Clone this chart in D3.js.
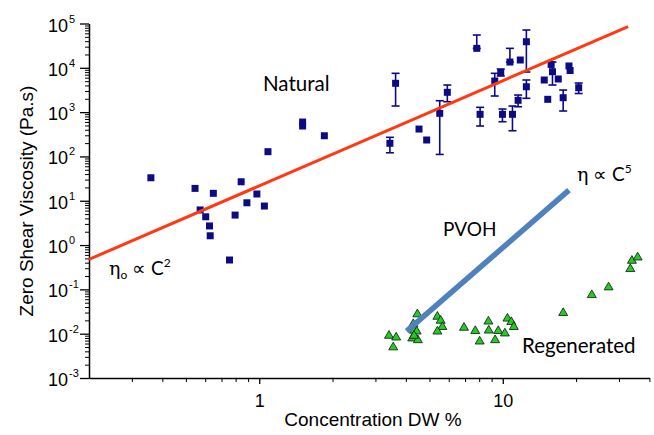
<!DOCTYPE html>
<html>
<head>
<meta charset="utf-8">
<script src="https://cdn.jsdelivr.net/npm/d3@7"></script>
<style>
  body { margin: 0; background: #fff; }
  text { font-family: "Liberation Sans", Arial, sans-serif; fill: #000; }
  .note { font-family: Lato, "Liberation Sans", sans-serif; }
</style>
</head>
<body>
<div id="chart"></div>
<script>
// Data
// ================================
// natural samples (concentration %, viscosity Pa.s, error low / high)
const naturalC = [0.359, 0.545, 0.572, 0.603, 0.625, 0.629, 0.648, 0.755, 0.796, 0.843,
  0.890, 0.978, 1.05, 1.086, 1.507, 1.507, 1.851, 3.44, 3.63, 4.53,
  4.87, 5.51, 5.92, 7.82, 8.07, 9.27, 9.81, 9.97, 10.7, 10.96,
  11.56, 11.8, 12.5, 12.5, 14.8, 15.3, 15.8, 16.0, 16.9, 17.7,
  18.7, 18.9, 20.5];
const naturalV = [33, 19, 6.2, 4.35, 2.7, 1.62, 14.7, 0.46, 4.75, 26.8,
  9.0, 14.2, 7.6, 128, 598, 486, 293, 198, 4470, 415,
  235, 940, 2800, 27500, 892, 5040, 7830, 892, 13500, 892,
  1847, 15000, 38800, 3740, 5310, 1945, 11900, 8170, 5590, 2115,
  11000, 8690, 3555];
const naturalLo = [null, null, null, null, null, null, null, null, null, null,
  null, null, null, null, null, null, null, 121, 1373, null,
  null, 111, 1718, 27500, 486, 2310, 6530, 607, 13500, 380,
  1323, null, 8040, 2050, null, null, null, 4090, null, 1060,
  null, null, 2630];
const naturalHi = [null, null, null, null, null, null, null, null, null, null,
  null, null, null, null, null, null, null, 270, 7510, null,
  null, 1808, 4090, 55000, 1283, 7510, 9400, 1175, 27500, 1373,
  2430, null, 71300, 5310, null, null, null, 13500, null, 3150,
  null, null, 4540];

// regenerated samples
const regenC = [3.41, 3.65, 3.55, 4.46, 4.29, 4.32, 4.43, 4.25, 4.48, 4.32,
  5.39, 5.56, 5.65, 5.39, 6.93, 7.71, 8.04, 8.73, 8.76, 9.30,
  9.58, 10.2, 10.45, 10.84, 11.1, 17.7, 23.2, 27.2, 33.4, 33.9, 35.8];
const regenV = [0.0093, 0.0085, 0.0051, 0.0284, 0.0171, 0.0121, 0.0116, 0.0081, 0.0074, 0.0093,
  0.0250, 0.0203, 0.0147, 0.0116, 0.0141, 0.0119, 0.0069, 0.0195, 0.0122, 0.0074,
  0.0119, 0.0105, 0.0227, 0.0190, 0.0147, 0.0304, 0.077, 0.115, 0.298, 0.458, 0.544];

// trend lines
const naturalFitC = [0.2, 32.7];
const naturalFitV = [0.475, 85500];
const pvohC = [4.03, 18.7];
const pvohV = [0.0114, 17.4];

// axis ticks
const xMajor = [1, 10];
const xMinor = [0.3, 0.4, 0.5, 0.6, 0.7, 0.8, 0.9, 2, 3, 4, 5, 6, 7, 8, 9, 20, 30, 40];
const yExp = [-3, -2, -1, 0, 1, 2, 3, 4, 5];

// Chart setup
// ================================
const svgWidth = 654;
const svgHeight = 435;

const svg = d3.select("#chart")
  .append("svg")
  .attr("width", svgWidth)
  .attr("height", svgHeight);

const xScale = d3.scaleLog().domain([0.2, 40]).range([89, 649.4]);
const yScale = d3.scaleLog().domain([1e-3, 1e5]).range([378, 23.5]);

// y axis: majors, minors
const yMinor = [];
yExp.slice(0, -1).forEach(e => {
  for (let k = 2; k <= 9; k++) yMinor.push(k * Math.pow(10, e));
});

svg.append("g")
  .attr("transform", "translate(89,0)")
  .call(d3.axisLeft(yScale).tickValues(yMinor).tickSize(4).tickFormat(""))
  .call(g => g.select(".domain").remove())
  .selectAll("line").attr("stroke", "#000").attr("stroke-width", 1);

svg.append("g")
  .attr("transform", "translate(89,0)")
  .call(d3.axisLeft(yScale).tickValues(yExp.map(e => Math.pow(10, e))).tickSize(9).tickSizeOuter(0).tickFormat(""))
  .call(g => g.select(".domain").attr("stroke", "#000").attr("stroke-width", 1.5))
  .selectAll("line").attr("stroke", "#000").attr("stroke-width", 1.3);

const yLabels = svg.append("g");
yExp.forEach(e => {
  yLabels.append("text")
    .attr("x", 68)
    .attr("y", yScale(Math.pow(10, e)) + 8)
    .attr("text-anchor", "end")
    .style("font-size", "18px")
    .text("10");
  yLabels.append("text")
    .attr("x", 69)
    .attr("y", yScale(Math.pow(10, e)) - 1)
    .style("font-size", "11px")
    .text(e < 0 ? "-" + (-e) : String(e));
});

// x axis
svg.append("g")
  .attr("transform", "translate(0,378)")
  .call(d3.axisBottom(xScale).tickValues(xMinor).tickSize(4).tickFormat(""))
  .call(g => g.select(".domain").remove())
  .selectAll("line").attr("stroke", "#000").attr("stroke-width", 1);

svg.append("g")
  .attr("transform", "translate(0,378)")
  .call(d3.axisBottom(xScale).tickValues(xMajor).tickSize(6).tickSizeOuter(0).tickFormat(d3.format("d")))
  .call(g => g.select(".domain").attr("stroke", "#000").attr("stroke-width", 1.5))
  .call(g => g.selectAll("line").attr("stroke", "#000").attr("stroke-width", 1.3))
  .call(g => g.selectAll("text").attr("dy", "1.1em").style("font-size", "18px")
    .style("font-family", "'Liberation Sans', Arial, sans-serif").attr("fill", "#000"));

// axis titles
svg.append("text")
  .attr("transform", "translate(33,201) rotate(-90)")
  .attr("text-anchor", "middle")
  .style("font-size", "19px")
  .text("Zero Shear Viscosity (Pa.s)");

svg.append("text")
  .attr("x", 373)
  .attr("y", 426)
  .attr("text-anchor", "middle")
  .style("font-size", "19px")
  .text("Concentration DW %");

// Natural points with error bars
const natural = naturalC.map((c, i) => ({ c: c, v: naturalV[i], lo: naturalLo[i], hi: naturalHi[i] }));
const navy = "#0b0b85";

const bars = svg.append("g").selectAll("g")
  .data(natural.filter(d => d.lo !== null))
  .enter()
  .append("g")
  .attr("stroke", navy)
  .attr("stroke-width", 1.6);

bars.append("line")
  .attr("x1", d => xScale(d.c)).attr("x2", d => xScale(d.c))
  .attr("y1", d => yScale(d.lo)).attr("y2", d => yScale(d.hi));
bars.append("line")
  .attr("x1", d => xScale(d.c) - 4).attr("x2", d => xScale(d.c) + 4)
  .attr("y1", d => yScale(d.hi)).attr("y2", d => yScale(d.hi));
bars.append("line")
  .attr("x1", d => xScale(d.c) - 4).attr("x2", d => xScale(d.c) + 4)
  .attr("y1", d => yScale(d.lo)).attr("y2", d => yScale(d.lo));

svg.append("g").selectAll("path")
  .data(natural)
  .enter()
  .append("path")
  .attr("transform", d => `translate(${xScale(d.c)},${yScale(d.v)})`)
  .attr("d", d3.symbol(d3.symbolSquare, 49))
  .attr("fill", navy);

// Regenerated triangles
const regen = regenC.map((c, i) => ({ c: c, v: regenV[i] }));
svg.append("g").selectAll("path")
  .data(regen)
  .enter()
  .append("path")
  .attr("transform", d => `translate(${xScale(d.c)},${yScale(d.v)})`)
  .attr("d", "M0,-4.5L4.5,3.2L-4.5,3.2Z")
  .attr("fill", "#22cc22")
  .attr("stroke", "#111")
  .attr("stroke-width", 0.8);

// Trend lines
const line = d3.line().x(d => xScale(d[0])).y(d => yScale(d[1]));

svg.append("path")
  .datum(naturalFitC.map((c, i) => [c, naturalFitV[i]]))
  .attr("d", line)
  .attr("fill", "none")
  .attr("stroke", "#ff3a12")
  .attr("stroke-width", 3);

svg.append("path")
  .datum(pvohC.map((c, i) => [c, pvohV[i]]))
  .attr("d", line)
  .attr("fill", "none")
  .attr("stroke", "#4f81bd")
  .attr("stroke-width", 5.5);

// Annotations
svg.append("text").attr("class", "note")
  .attr("x", 263).attr("y", 91)
  .style("font-size", "20.5px")
  .text("Natural");

svg.append("text").attr("class", "note")
  .attr("x", 443).attr("y", 236)
  .style("font-size", "19px")
  .text("PVOH");

svg.append("text").attr("class", "note")
  .attr("x", 522).attr("y", 353)
  .style("font-size", "20.5px")
  .text("Regenerated");

const eta0 = svg.append("text").attr("class", "note")
  .attr("x", 109).attr("y", 275)
  .style("font-size", "19px");
eta0.append("tspan").style("font-family", "'DejaVu Serif', serif").text("η");
eta0.append("tspan").attr("dy", 4).style("font-size", "12px").text("o");
eta0.append("tspan").attr("dy", -4).text(" ∝ C");
eta0.append("tspan").attr("dy", -8).style("font-size", "12px").text("2");

const eta5 = svg.append("text").attr("class", "note")
  .attr("x", 577).attr("y", 181)
  .style("font-size", "19px");
eta5.append("tspan").style("font-family", "'DejaVu Serif', serif").text("η");
eta5.append("tspan").text(" ∝ C");
eta5.append("tspan").attr("dy", -8).style("font-size", "12px").text("5");
</script>
</body>
</html>
